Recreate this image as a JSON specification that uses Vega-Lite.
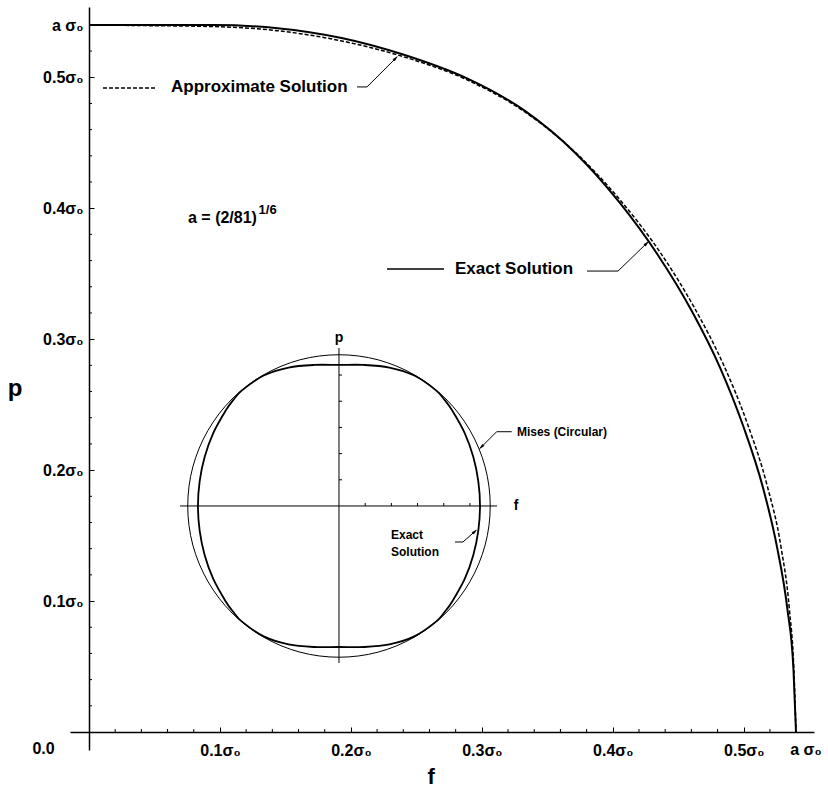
{
  "$schema": "https://vega.github.io/schema/vega-lite/v6.json",
  "width": 744,
  "height": 743,
  "autosize": {"type": "none"},
  "padding": {"left": 70, "top": 7, "right": 14, "bottom": 41},
  "background": "white",
  "data": {"values": [{}]},
  "config": {
    "view": {"stroke": null},
    "axis": {"grid": false, "domainColor": "black", "tickColor": "black", "labelColor": "black", "labelFont": "Liberation Sans", "labelFontWeight": "bold", "labelFontSize": 16, "domainWidth": 1.5, "tickWidth": 1, "labelFlush": false, "labelOverlap": false, "labelBound": false},
    "text": {"font": "Liberation Sans", "fontWeight": "bold", "color": "black"}
  },
  "datasets": {
    "exact": [
      {"f": 0, "p": 0.5399}, {"f": 0.0472, "p": 0.5399}, {"f": 0.0952, "p": 0.5399}, {"f": 0.1440, "p": 0.5375},
      {"f": 0.1929, "p": 0.5300}, {"f": 0.2411, "p": 0.5170}, {"f": 0.2883, "p": 0.4993}, {"f": 0.3324, "p": 0.4747},
      {"f": 0.3712, "p": 0.4424}, {"f": 0.4048, "p": 0.4048}, {"f": 0.4343, "p": 0.3645}, {"f": 0.4600, "p": 0.3221},
      {"f": 0.4819, "p": 0.2783}, {"f": 0.4998, "p": 0.2331}, {"f": 0.5145, "p": 0.1873}, {"f": 0.5255, "p": 0.1408},
      {"f": 0.5333, "p": 0.0940}, {"f": 0.5380, "p": 0.0471}, {"f": 0.5399, "p": 0}
    ],
    "approx": [
      {"f": 0, "p": 0.5399}, {"f": 0.0472, "p": 0.5394}, {"f": 0.0950, "p": 0.5387}, {"f": 0.1435, "p": 0.5356},
      {"f": 0.1921, "p": 0.5279}, {"f": 0.2404, "p": 0.5156}, {"f": 0.2878, "p": 0.4984}, {"f": 0.3320, "p": 0.4741},
      {"f": 0.3714, "p": 0.4426}, {"f": 0.4059, "p": 0.4059}, {"f": 0.4363, "p": 0.3661}, {"f": 0.4624, "p": 0.3238},
      {"f": 0.4848, "p": 0.2799}, {"f": 0.5031, "p": 0.2346}, {"f": 0.5178, "p": 0.1885}, {"f": 0.5284, "p": 0.1416},
      {"f": 0.5348, "p": 0.0943}, {"f": 0.5383, "p": 0.0471}, {"f": 0.5399, "p": 0}
    ],
    "minor": [
      {"v": 0.02}, {"v": 0.04}, {"v": 0.06}, {"v": 0.08}, {"v": 0.12}, {"v": 0.14}, {"v": 0.16}, {"v": 0.18},
      {"v": 0.22}, {"v": 0.24}, {"v": 0.26}, {"v": 0.28}, {"v": 0.32}, {"v": 0.34}, {"v": 0.36}, {"v": 0.38},
      {"v": 0.42}, {"v": 0.44}, {"v": 0.46}, {"v": 0.48}, {"v": 0.52}
    ],
    "mises": [
      {"k": 0, "f": 0.3064, "p": 0.1726}, {"k": 1, "f": 0.3025, "p": 0.2025}, {"k": 2, "f": 0.2909, "p": 0.2304},
      {"k": 3, "f": 0.2726, "p": 0.2543}, {"k": 4, "f": 0.2487, "p": 0.2726}, {"k": 5, "f": 0.2208, "p": 0.2842},
      {"k": 6, "f": 0.1909, "p": 0.2881}, {"k": 7, "f": 0.1610, "p": 0.2842}, {"k": 8, "f": 0.1331, "p": 0.2726},
      {"k": 9, "f": 0.1092, "p": 0.2543}, {"k": 10, "f": 0.0909, "p": 0.2304}, {"k": 11, "f": 0.0793, "p": 0.2025},
      {"k": 12, "f": 0.0754, "p": 0.1726}, {"k": 13, "f": 0.0793, "p": 0.1427}, {"k": 14, "f": 0.0909, "p": 0.1148},
      {"k": 15, "f": 0.1092, "p": 0.0909}, {"k": 16, "f": 0.1331, "p": 0.0726}, {"k": 17, "f": 0.1610, "p": 0.0610},
      {"k": 18, "f": 0.1909, "p": 0.0571}, {"k": 19, "f": 0.2208, "p": 0.0610}, {"k": 20, "f": 0.2487, "p": 0.0726},
      {"k": 21, "f": 0.2726, "p": 0.0909}, {"k": 22, "f": 0.2909, "p": 0.1148}, {"k": 23, "f": 0.3025, "p": 0.1427}
    ],
    "inner": [
      {"k": 0, "f": 0.2986, "p": 0.1726}, {"k": 1, "f": 0.2973, "p": 0.1914}, {"k": 2, "f": 0.2935, "p": 0.2100},
      {"k": 3, "f": 0.2870, "p": 0.2281}, {"k": 4, "f": 0.2775, "p": 0.2453}, {"k": 5, "f": 0.2717, "p": 0.2534},
      {"k": 6, "f": 0.2650, "p": 0.2609}, {"k": 7, "f": 0.2484, "p": 0.2722}, {"k": 8, "f": 0.2294, "p": 0.2783},
      {"k": 9, "f": 0.2099, "p": 0.2803}, {"k": 10, "f": 0.1909, "p": 0.2803}, {"k": 11, "f": 0.1719, "p": 0.2803},
      {"k": 12, "f": 0.1524, "p": 0.2783}, {"k": 13, "f": 0.1334, "p": 0.2722}, {"k": 14, "f": 0.1168, "p": 0.2609},
      {"k": 15, "f": 0.1101, "p": 0.2534}, {"k": 16, "f": 0.1043, "p": 0.2453}, {"k": 17, "f": 0.0948, "p": 0.2281},
      {"k": 18, "f": 0.0883, "p": 0.2100}, {"k": 19, "f": 0.0845, "p": 0.1914}, {"k": 20, "f": 0.0832, "p": 0.1726},
      {"k": 21, "f": 0.0845, "p": 0.1538}, {"k": 22, "f": 0.0883, "p": 0.1352}, {"k": 23, "f": 0.0948, "p": 0.1171},
      {"k": 24, "f": 0.1043, "p": 0.0999}, {"k": 25, "f": 0.1101, "p": 0.0918}, {"k": 26, "f": 0.1168, "p": 0.0843},
      {"k": 27, "f": 0.1334, "p": 0.0730}, {"k": 28, "f": 0.1524, "p": 0.0669}, {"k": 29, "f": 0.1719, "p": 0.0649},
      {"k": 30, "f": 0.1909, "p": 0.0649}, {"k": 31, "f": 0.2099, "p": 0.0649}, {"k": 32, "f": 0.2294, "p": 0.0669},
      {"k": 33, "f": 0.2484, "p": 0.0730}, {"k": 34, "f": 0.2650, "p": 0.0843}, {"k": 35, "f": 0.2717, "p": 0.0918},
      {"k": 36, "f": 0.2775, "p": 0.0999}, {"k": 37, "f": 0.2870, "p": 0.1171}, {"k": 38, "f": 0.2935, "p": 0.1352},
      {"k": 39, "f": 0.2973, "p": 0.1538}
    ],
    "insetAxes": [
      {"f": 0.1909, "f2": 0.1909, "p": 0.0527, "p2": 0.2932},
      {"f": 0.0695, "f2": 0.3116, "p": 0.1726, "p2": 0.1726}
    ],
    "insetTicks": [
      {"f": 0.1909, "f2": 0.1932, "p": 0.1926, "p2": 0.1926},
      {"f": 0.1909, "f2": 0.1932, "p": 0.2126, "p2": 0.2126},
      {"f": 0.1909, "f2": 0.1932, "p": 0.2326, "p2": 0.2326},
      {"f": 0.1909, "f2": 0.1932, "p": 0.2526, "p2": 0.2526},
      {"f": 0.1909, "f2": 0.1932, "p": 0.2726, "p2": 0.2726},
      {"f": 0.2109, "f2": 0.2109, "p": 0.1726, "p2": 0.1749},
      {"f": 0.2309, "f2": 0.2309, "p": 0.1726, "p2": 0.1749},
      {"f": 0.2509, "f2": 0.2509, "p": 0.1726, "p2": 0.1749},
      {"f": 0.2709, "f2": 0.2709, "p": 0.1726, "p2": 0.1749},
      {"f": 0.2909, "f2": 0.2909, "p": 0.1726, "p2": 0.1749}
    ],
    "leaders": [
      {"g": 1, "k": 0, "f": 0.2047, "p": 0.4926}, {"g": 1, "k": 1, "f": 0.2123, "p": 0.4926}, {"g": 1, "k": 2, "f": 0.2352, "p": 0.5155},
      {"g": 2, "k": 0, "f": 0.3803, "p": 0.3520}, {"g": 2, "k": 1, "f": 0.4040, "p": 0.3520}, {"g": 2, "k": 2, "f": 0.4269, "p": 0.3742},
      {"g": 3, "k": 0, "f": 0.3228, "p": 0.2293}, {"g": 3, "k": 1, "f": 0.3113, "p": 0.2293}, {"g": 3, "k": 2, "f": 0.2986, "p": 0.2166},
      {"g": 4, "k": 0, "f": 0.2795, "p": 0.1451}, {"g": 4, "k": 1, "f": 0.2856, "p": 0.1451}, {"g": 4, "k": 2, "f": 0.2955, "p": 0.1539}
    ]
  },
  "layer": [
    {
      "data": {"name": "exact"},
      "mark": {"type": "line", "color": "black", "strokeWidth": 2, "interpolate": "monotone"},
      "encoding": {
        "x": {"field": "f", "type": "quantitative",
          "scale": {"domain": [-0.01451, 0.55365], "nice": false, "zero": false},
          "axis": {"title": null, "offset": -18, "labelOverlap": false, "labelFlush": false, "labelBound": false,
            "values": [0.1, 0.2, 0.3, 0.4, 0.5],
            "labelExpr": "format(datum.value, '.1f') + 'σ₀'",
            "tickSize": -5,
            "labelPadding": 15
          }
        },
        "y": {"field": "p", "type": "quantitative",
          "scale": {"domain": [-0.013746, 0.55365], "nice": false, "zero": false},
          "axis": {"title": null, "offset": -19, "labelOverlap": false, "labelFlush": false, "labelBound": false,
            "values": [0.1, 0.2, 0.3, 0.4, 0.5, 0.5399],
            "labelExpr": "datum.value > 0.53 ? 'a σ₀' : format(datum.value, '.1f') + 'σ₀'",
            "tickSize": -5,
            "labelPadding": 11
          }
        }
      }
    },
    {
      "data": {"name": "minor"},
      "mark": {"type": "tick", "orient": "vertical", "size": 3, "thickness": 1, "color": "black", "opacity": 1, "yOffset": -1.5},
      "encoding": {
        "x": {"field": "v", "type": "quantitative"},
        "y": {"datum": 0, "type": "quantitative"}
      }
    },
    {
      "data": {"name": "minor"},
      "mark": {"type": "tick", "orient": "horizontal", "size": 3, "thickness": 1, "color": "black", "opacity": 1, "xOffset": 1.5},
      "encoding": {
        "y": {"field": "v", "type": "quantitative"},
        "x": {"datum": 0, "type": "quantitative"}
      }
    },
    {
      "data": {"name": "approx"},
      "mark": {"type": "line", "color": "black", "strokeWidth": 1.5, "strokeDash": [4, 2], "interpolate": "monotone"},
      "encoding": {
        "x": {"field": "f", "type": "quantitative"},
        "y": {"field": "p", "type": "quantitative"}
      }
    },
    {
      "data": {"name": "mises"},
      "mark": {"type": "line", "color": "black", "strokeWidth": 1, "interpolate": "cardinal-closed"},
      "encoding": {
        "x": {"field": "f", "type": "quantitative"},
        "y": {"field": "p", "type": "quantitative"},
        "order": {"field": "k", "type": "quantitative"}
      }
    },
    {
      "data": {"name": "inner"},
      "mark": {"type": "line", "color": "black", "strokeWidth": 1.8, "interpolate": "cardinal-closed"},
      "encoding": {
        "x": {"field": "f", "type": "quantitative"},
        "y": {"field": "p", "type": "quantitative"},
        "order": {"field": "k", "type": "quantitative"}
      }
    },
    {
      "data": {"name": "insetAxes"},
      "mark": {"type": "rule", "color": "black", "strokeWidth": 1},
      "encoding": {
        "x": {"field": "f", "type": "quantitative"},
        "x2": {"field": "f2"},
        "y": {"field": "p", "type": "quantitative"},
        "y2": {"field": "p2"}
      }
    },
    {
      "data": {"name": "insetTicks"},
      "mark": {"type": "rule", "color": "black", "strokeWidth": 1},
      "encoding": {
        "x": {"field": "f", "type": "quantitative"},
        "x2": {"field": "f2"},
        "y": {"field": "p", "type": "quantitative"},
        "y2": {"field": "p2"}
      }
    },
    {
      "data": {"name": "leaders"},
      "mark": {"type": "line", "color": "black", "strokeWidth": 1},
      "encoding": {
        "x": {"field": "f", "type": "quantitative"},
        "y": {"field": "p", "type": "quantitative"},
        "detail": {"field": "g", "type": "nominal"},
        "order": {"field": "k", "type": "quantitative"}
      }
    },
    {
      "mark": {"type": "point", "shape": "M0,-1L0.45,0.8L-0.45,0.8Z", "filled": true, "color": "black", "size": 45, "angle": 45, "opacity": 1},
      "encoding": {"x": {"datum": 0.2341, "type": "quantitative"}, "y": {"datum": 0.5144, "type": "quantitative"}}
    },
    {
      "mark": {"type": "point", "shape": "M0,-1L0.45,0.8L-0.45,0.8Z", "filled": true, "color": "black", "size": 45, "angle": 46, "opacity": 1},
      "encoding": {"x": {"datum": 0.4258, "type": "quantitative"}, "y": {"datum": 0.3731, "type": "quantitative"}}
    },
    {
      "mark": {"type": "point", "shape": "M0,-1L0.45,0.8L-0.45,0.8Z", "filled": true, "color": "black", "size": 45, "angle": 225, "opacity": 1},
      "encoding": {"x": {"datum": 0.2997, "type": "quantitative"}, "y": {"datum": 0.2177, "type": "quantitative"}}
    },
    {
      "mark": {"type": "point", "shape": "M0,-1L0.45,0.8L-0.45,0.8Z", "filled": true, "color": "black", "size": 45, "angle": 48, "opacity": 1},
      "encoding": {"x": {"datum": 0.2945, "type": "quantitative"}, "y": {"datum": 0.1530, "type": "quantitative"}}
    },
    {
      "mark": {"type": "rule", "color": "black", "strokeWidth": 1.5, "strokeDash": [4, 2]},
      "encoding": {"x": {"datum": 0.0107, "type": "quantitative"}, "x2": {"datum": 0.0504}, "y": {"datum": 0.4918, "type": "quantitative"}}
    },
    {
      "mark": {"type": "rule", "color": "black", "strokeWidth": 1.5},
      "encoding": {"x": {"datum": 0.2276, "type": "quantitative"}, "x2": {"datum": 0.2711}, "y": {"datum": 0.3536, "type": "quantitative"}}
    },
    {
      "mark": {"type": "text", "text": "Approximate Solution", "fontSize": 17, "align": "left", "baseline": "middle"},
      "encoding": {"x": {"datum": 0.0626, "type": "quantitative"}, "y": {"datum": 0.4926, "type": "quantitative"}}
    },
    {
      "mark": {"type": "text", "text": "Exact Solution", "fontSize": 17, "align": "left", "baseline": "middle"},
      "encoding": {"x": {"datum": 0.2795, "type": "quantitative"}, "y": {"datum": 0.3536, "type": "quantitative"}}
    },
    {
      "mark": {"type": "text", "text": "a = (2/81)", "fontSize": 16, "align": "left", "baseline": "middle"},
      "encoding": {"x": {"datum": 0.0756, "type": "quantitative"}, "y": {"datum": 0.3925, "type": "quantitative"}}
    },
    {
      "mark": {"type": "text", "text": "1/6", "fontSize": 13, "align": "left", "baseline": "middle"},
      "encoding": {"x": {"datum": 0.1295, "type": "quantitative"}, "y": {"datum": 0.3985, "type": "quantitative"}}
    },
    {
      "mark": {"type": "text", "text": "p", "fontSize": 24, "align": "center", "baseline": "middle"},
      "encoding": {"x": {"datum": -0.0565, "type": "quantitative"}, "y": {"datum": 0.2619, "type": "quantitative"}}
    },
    {
      "mark": {"type": "text", "text": "f", "fontSize": 22, "align": "center", "baseline": "middle"},
      "encoding": {"x": {"datum": 0.2612, "type": "quantitative"}, "y": {"datum": -0.0344, "type": "quantitative"}}
    },
    {
      "mark": {"type": "text", "text": "0.0", "fontSize": 16, "align": "center", "baseline": "middle"},
      "encoding": {"x": {"datum": -0.0347, "type": "quantitative"}, "y": {"datum": -0.0130, "type": "quantitative"}}
    },
    {
      "mark": {"type": "text", "text": "a σ₀", "fontSize": 16, "align": "center", "baseline": "middle"},
      "encoding": {"x": {"datum": 0.5475, "type": "quantitative"}, "y": {"datum": -0.0137, "type": "quantitative"}}
    },
    {
      "mark": {"type": "text", "text": "p", "fontSize": 14, "align": "center", "baseline": "middle"},
      "encoding": {"x": {"datum": 0.1909, "type": "quantitative"}, "y": {"datum": 0.3009, "type": "quantitative"}}
    },
    {
      "mark": {"type": "text", "text": "f", "fontSize": 14, "align": "center", "baseline": "middle"},
      "encoding": {"x": {"datum": 0.3261, "type": "quantitative"}, "y": {"datum": 0.1726, "type": "quantitative"}}
    },
    {
      "mark": {"type": "text", "text": "Mises (Circular)", "fontSize": 12, "align": "left", "baseline": "middle"},
      "encoding": {"x": {"datum": 0.3268, "type": "quantitative"}, "y": {"datum": 0.2293, "type": "quantitative"}}
    },
    {
      "mark": {"type": "text", "text": "Exact", "fontSize": 12, "align": "left", "baseline": "middle"},
      "encoding": {"x": {"datum": 0.2306, "type": "quantitative"}, "y": {"datum": 0.1504, "type": "quantitative"}}
    },
    {
      "mark": {"type": "text", "text": "Solution", "fontSize": 12, "align": "left", "baseline": "middle"},
      "encoding": {"x": {"datum": 0.2306, "type": "quantitative"}, "y": {"datum": 0.1375, "type": "quantitative"}}
    }
  ]
}
